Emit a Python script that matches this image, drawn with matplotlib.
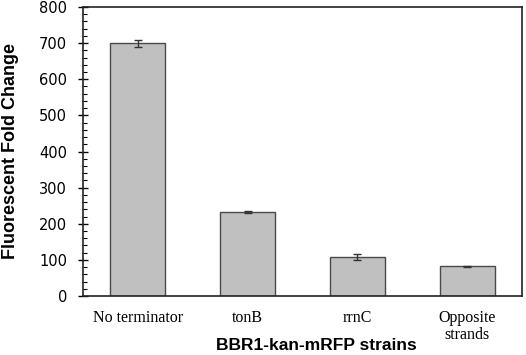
import matplotlib
matplotlib.use("Agg")
import matplotlib.pyplot as plt
from matplotlib.ticker import MultipleLocator

categories = ["No terminator", "tonB", "rrnC", "Opposite\nstrands"]
values = [700, 233, 108, 82]
errors = [10, 2, 9, 2]
yticks = [0, 100, 200, 300, 400, 500, 600, 700, 800]

fig = plt.figure(figsize=(5.26, 3.55), dpi=100)
ax = fig.add_axes([83/526, 1-296/355, 439/526, 289/355])
x = range(len(categories))
ax.bar(x, values, width=0.5, color="#c0c0c0", edgecolor="#4a4a4a", linewidth=1.0,
       yerr=errors, capsize=3, error_kw=dict(ecolor="#333333", elinewidth=1, capthick=1), zorder=2)
ax.set_xlim(-0.5, 3.5)
ax.set_ylim(0, 800)
ax.set_yticks(yticks)
ax.yaxis.set_minor_locator(MultipleLocator(20))
ax.set_xticks(list(x))
ax.set_xticklabels(categories, family="Liberation Serif", fontsize=11.5, linespacing=1.1)
for lab in ax.get_yticklabels():
    lab.set_family("DejaVu Sans")
    lab.set_fontsize(10.5)
ax.tick_params(axis="y", which="major", direction="inout", length=7, width=1, pad=8)
ax.tick_params(axis="y", which="minor", direction="in", length=3, width=0.8)
ax.tick_params(axis="x", length=0, pad=10)
for s in ax.spines.values():
    s.set_linewidth(1.2)
    s.set_color("#222222")
fig.text(11/526, 1-151/355, "Fluorescent Fold Change", family="Liberation Sans",
         fontweight="bold", fontsize=13, ha="center", va="center", rotation=90)
fig.text(316/526, 1-345/355, "BBR1-kan-mRFP strains", family="Liberation Sans",
         fontweight="bold", fontsize=12.5, ha="center", va="center")
fig.savefig("out.png", dpi=100)
